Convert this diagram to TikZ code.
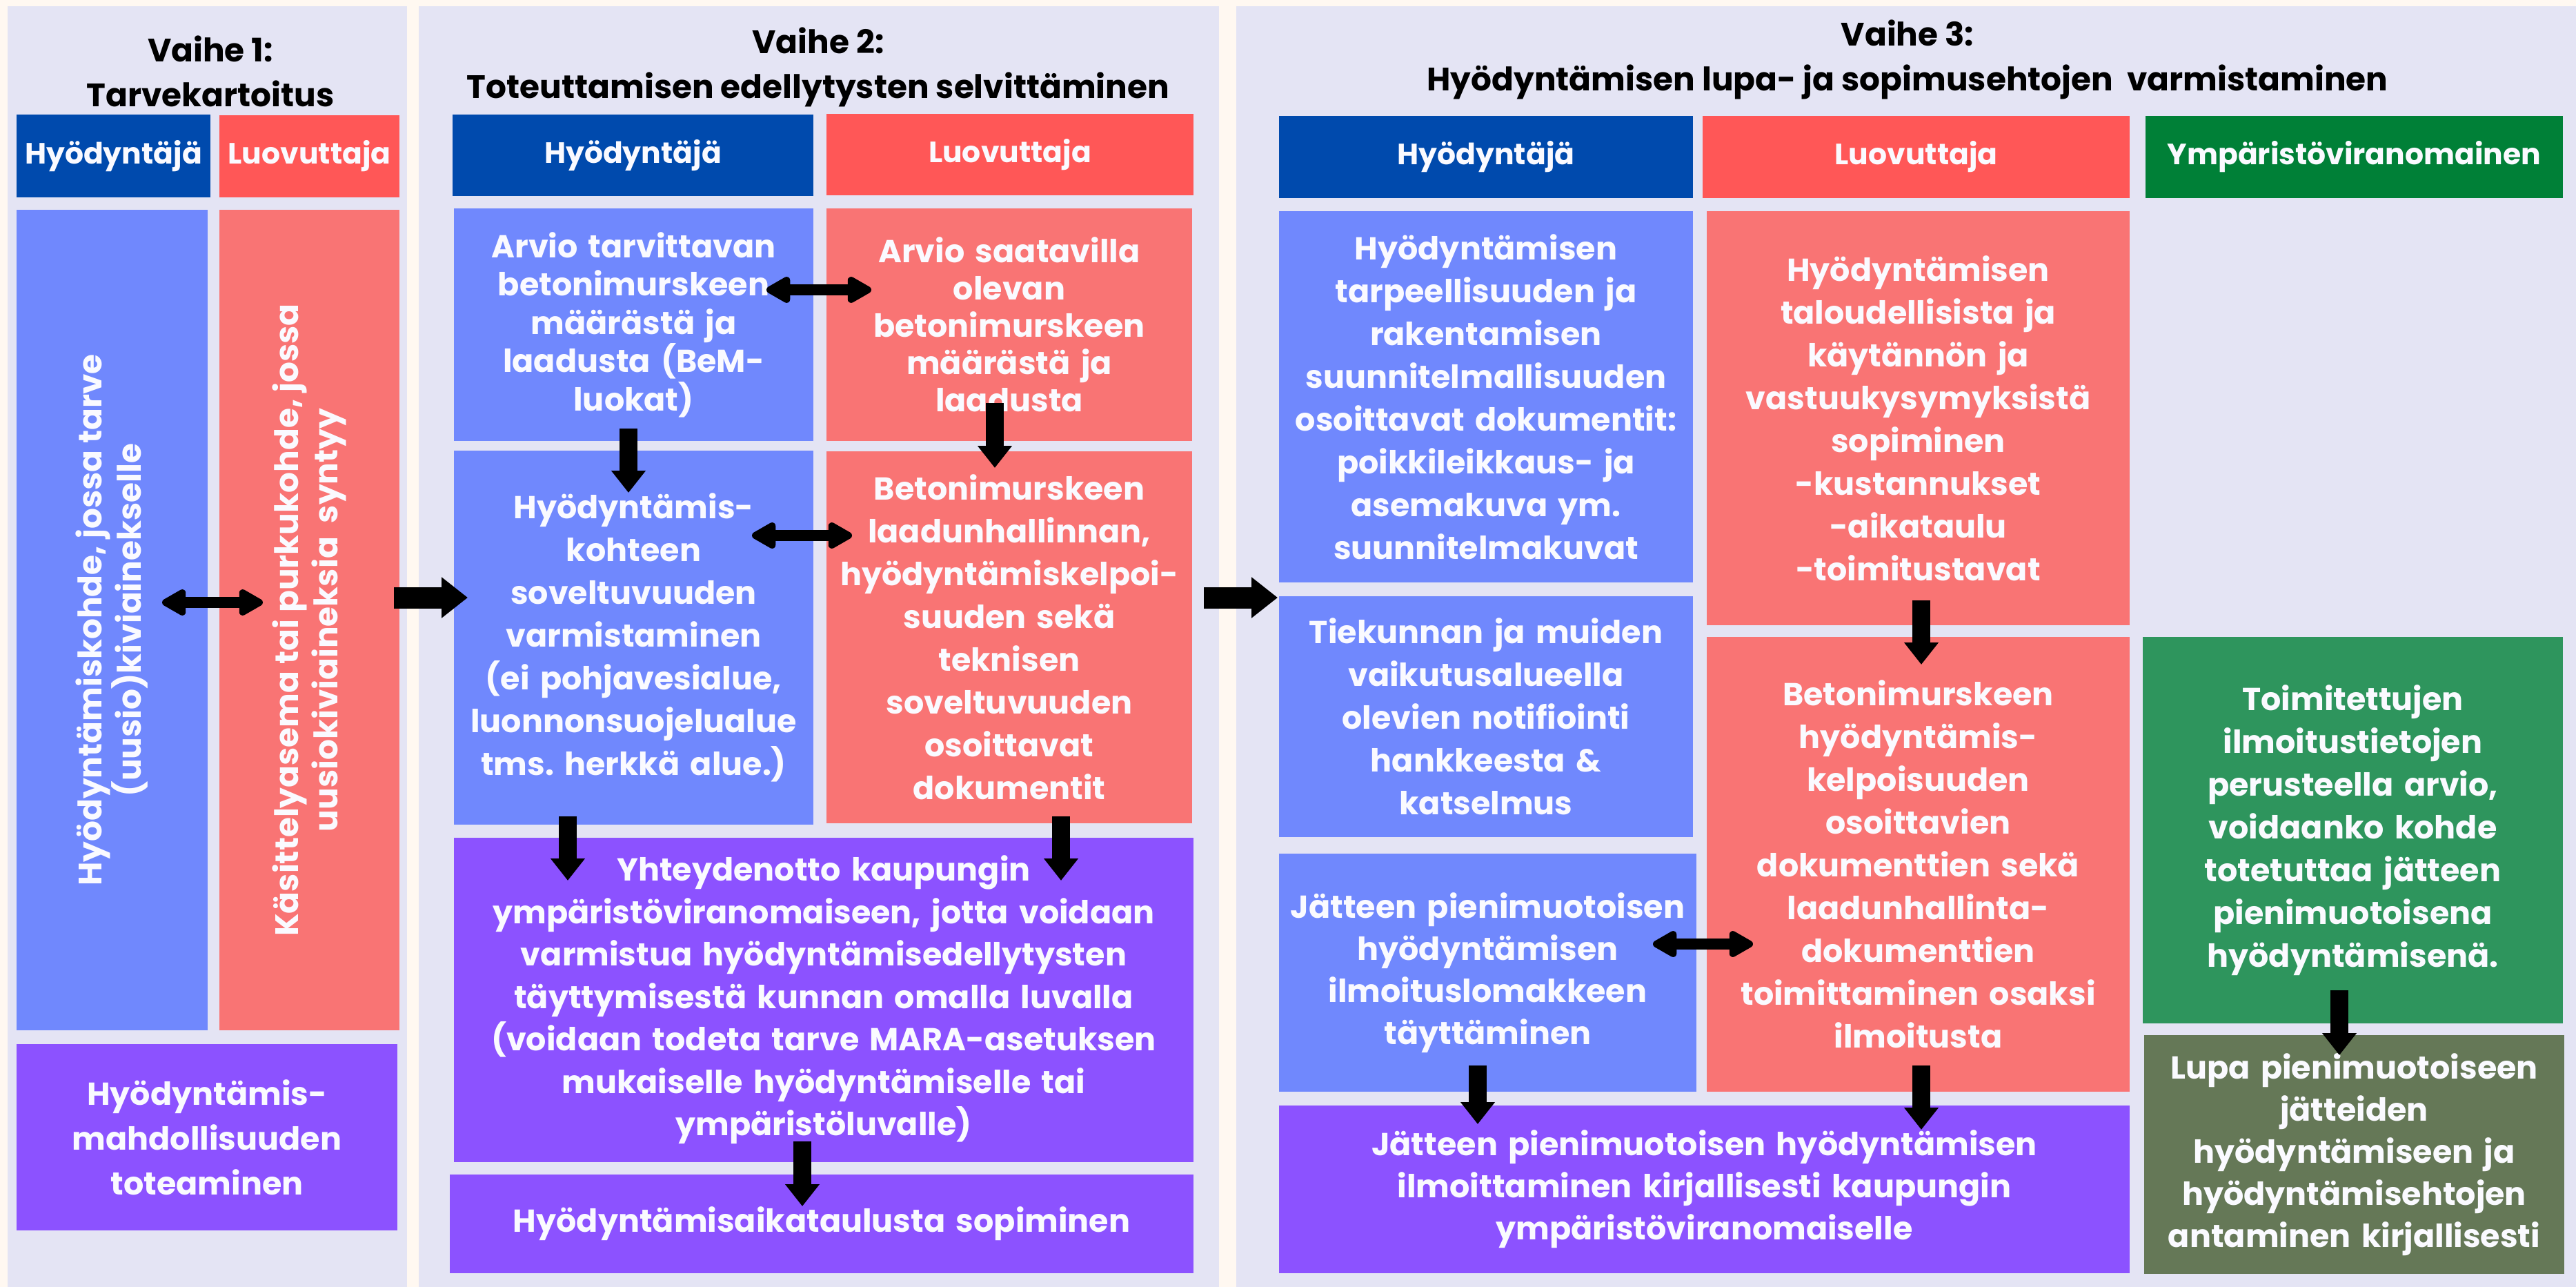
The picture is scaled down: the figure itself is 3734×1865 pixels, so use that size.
\documentclass[tikz,border=0pt]{standalone}
\usepackage{fontspec}
\setmainfont{Poppins}
\usetikzlibrary{arrows.meta}
\frenchspacing
\definecolor{cream}{HTML}{FFF8F1}
\definecolor{panel}{HTML}{E4E4F4}
\definecolor{hdblue}{HTML}{004AAD}
\definecolor{hdred}{HTML}{FF5757}
\definecolor{hdgreen}{HTML}{008037}
\definecolor{bblue}{HTML}{7088FD}
\definecolor{bred}{HTML}{F97474}
\definecolor{bpurple}{HTML}{8C52FF}
\definecolor{bgreen}{HTML}{2E955D}
\definecolor{bolive}{HTML}{657857}
\definecolor{txtwhite}{HTML}{FAFAFF}
\newcommand\bx[8]{% name, x1,y1,x2,y2, style, leading(pt), text
  \pgfmathsetmacro\myBW{(#4-#2)*0.2}%
  \pgfmathsetmacro\myBH{(#5-#3)*0.2}%
  \pgfmathsetmacro\myTW{(#4-#2)*0.2-4}%
  \node[box, font=\fontsize{9.2}{#7}\selectfont\bfseries, #6, minimum width=\myBW pt, minimum height=\myBH pt, text width=\myTW pt] (#1) at ({(#2+#4)/2},{(#3+#5)/2}) {#8};}
\tikzset{
  box/.style={inner sep=0pt, outer sep=0pt, align=center, text=txtwhite},
  hdr/.style={font=\fontsize{8.5}{11}\selectfont\bfseries},
  ttl/.style={align=center, text=black, inner sep=0pt, font=\fontsize{9.4}{13}\selectfont\bfseries},
  rot/.style={rotate=90, align=center, text=txtwhite, inner sep=0pt, font=\fontsize{9.4}{11.4}\selectfont\bfseries},
  dn/.style={line width=5.2pt, -{Triangle[length=6.4pt,width=9.6pt]}},
  big/.style={line width=6.2pt, -{Triangle[length=7.6pt,width=11.4pt]}},
  dbl/.style={line width=3.2pt, {Triangle[round,length=8pt,width=8.4pt]}-{Triangle[round,length=8pt,width=8.4pt]}}
}
\begin{document}
\begin{tikzpicture}[x=0.2pt,y=-0.2pt]
\useasboundingbox (0,0) rectangle (3734,1865);
\fill[cream] (0,0) rectangle (3734,1865);
\fill[panel] (11,9) rectangle (590,1865);
\fill[panel] (607,9) rectangle (1767,1865);
\fill[panel] (1792,9) rectangle (3734,1865);
% titles
\node[ttl] (t1) at (305,103) {Vaihe 1:\\Tarvekartoitus};
\node[ttl] (t2) at (1186,97) {Vaihe 2:\\Toteuttamisen edellytysten selvittäminen};
\node[ttl] (t3) at (2765,86) {Vaihe 3:\\Hyödyntämisen lupa- ja sopimusehtojen\ \ varmistaminen};
% Phase 1
\bx{h1a}{24}{166}{305}{286}{fill=hdblue,hdr}{11}{Hyödyntäjä}
\bx{h1b}{318}{167}{579}{286}{fill=hdred,hdr}{11}{Luovuttaja}
\bx{b1a}{24}{304}{301}{1493}{fill=bblue}{11}{}
\bx{b1b}{318}{304}{579}{1493}{fill=bred}{11}{}
\node[rot] (b1atext) at (b1a.center) {Hyödyntämiskohde, jossa tarve\\(uusio)kiviainekselle};
\node[rot] (b1btext) at (b1b.center) {Käsittelyasema tai purkukohde, jossa\\uusiokiviaineksia\ \ syntyy};
\bx{b1c}{24}{1513}{576}{1783}{fill=bpurple}{13}{Hyödyntämis-\\mahdollisuuden\\toteaminen}
% Phase 2
\bx{h2a}{656}{166}{1179}{284}{fill=hdblue,hdr}{11}{Hyödyntäjä}
\bx{h2b}{1198}{165}{1730}{283}{fill=hdred,hdr}{11}{Luovuttaja}
\bx{b2a}{658}{302}{1179}{639}{fill=bblue}{11.1}{Arvio tarvittavan\\betonimurskeen\\määrästä ja\\laadusta (BeM-\\luokat)}
\bx{b2b}{1198}{302}{1728}{639}{fill=bred}{10.8}{Arvio saatavilla\\olevan\\betonimurskeen\\määrästä ja\\laadusta}
\bx{b2c}{658}{653}{1179}{1195}{fill=bblue}{12.4}{Hyödyntämis-\\kohteen\\soveltuvuuden\\varmistaminen\\(ei pohjavesialue,\\luonnonsuojelualue\\tms. herkkä alue.)}
\bx{b2d}{1198}{654}{1728}{1193}{fill=bred}{12.4}{Betonimurskeen\\laadunhallinnan,\\hyödyntämiskelpoi-\\suuden sekä\\teknisen\\soveltuvuuden\\osoittavat\\dokumentit}
\bx{b2e}{658}{1214}{1730}{1684}{fill=bpurple}{12.3}{Yhteydenotto kaupungin\\ympäristöviranomaiseen, jotta voidaan\\varmistua hyödyntämisedellytysten\\täyttymisestä kunnan omalla luvalla\\(voidaan todeta tarve MARA-asetuksen\\mukaiselle hyödyntämiselle tai\\ympäristöluvalle)}
\bx{b2f}{652}{1702}{1730}{1845}{fill=bpurple}{12.3}{Hyödyntämisaikataulusta sopiminen}
% Phase 3
\bx{h3a}{1854}{168}{2454}{287}{fill=hdblue,hdr}{11}{Hyödyntäjä}
\bx{h3b}{2468}{168}{3087}{287}{fill=hdred,hdr}{11}{\raisebox{-0.8pt}{Luovuttaja}}
\bx{h3c}{3110}{168}{3715}{287}{fill=hdgreen,hdr}{11}{Ympäristöviranomainen}
\bx{b3a}{1854}{306}{2454}{844}{fill=bblue}{12.4}{Hyödyntämisen\\tarpeellisuuden ja\\rakentamisen\\suunnitelmallisuuden\\osoittavat dokumentit:\\poikkileikkaus- ja\\asemakuva ym.\\suunnitelmakuvat}
\bx{b3b}{1854}{864}{2454}{1213}{fill=bblue}{12.4}{Tiekunnan ja muiden\\vaikutusalueella\\olevien notifiointi\\hankkeesta \&\\katselmus}
\bx{b3c}{1854}{1237}{2459}{1582}{fill=bblue}{12.2}{Jätteen pienimuotoisen\\hyödyntämisen\\ilmoituslomakkeen\\täyttäminen\\[13pt]}
\bx{b3d}{1854}{1602}{3087}{1845}{fill=bpurple}{12.2}{Jätteen pienimuotoisen hyödyntämisen\\ilmoittaminen kirjallisesti kaupungin\\ympäristöviranomaiselle}
\bx{b3e}{2474}{306}{3087}{906}{fill=bred}{12.4}{Hyödyntämisen\\taloudellisista ja\\käytännön ja\\vastuukysymyksistä\\sopiminen\\-kustannukset\\-aikataulu\\-toimitustavat\\[13pt]}
\bx{b3f}{2474}{923}{3087}{1582}{fill=bred}{12.4}{Betonimurskeen\\hyödyntämis-\\kelpoisuuden\\osoittavien\\dokumenttien sekä\\laadunhallinta-\\dokumenttien\\toimittaminen osaksi\\ilmoitusta}
\bx{b3g}{3106}{923}{3715}{1483}{fill=bgreen}{12.4}{Toimitettujen\\ilmoitustietojen\\perusteella arvio,\\voidaanko kohde\\totetuttaa jätteen\\pienimuotoisena\\hyödyntämisenä.}
\bx{b3h}{3108}{1500}{3717}{1846}{fill=bolive}{12.2}{Lupa pienimuotoiseen\\jätteiden\\hyödyntämiseen ja\\hyödyntämisehtojen\\antaminen kirjallisesti}
% arrow end points
\coordinate (p1l) at (235,873); \coordinate (p1r) at (381,873);
\coordinate (g12a) at (571,866); \coordinate (g12b) at (678,866);
\coordinate (g23a) at (1745,866); \coordinate (g23b) at (1852,866);
\coordinate (d1a) at (911,621); \coordinate (d1b) at (911,714);
\coordinate (d2a) at (1442,584); \coordinate (d2b) at (1442,678);
\coordinate (e1a) at (1111,420); \coordinate (e1b) at (1263,420);
\coordinate (e2a) at (1090,776); \coordinate (e2b) at (1235,776);
\coordinate (d3a) at (823,1183); \coordinate (d3b) at (823,1276);
\coordinate (d4a) at (1538,1183); \coordinate (d4b) at (1538,1276);
\coordinate (d5a) at (1163,1654); \coordinate (d5b) at (1163,1748);
\coordinate (e3a) at (2396,1368); \coordinate (e3b) at (2541,1368);
\coordinate (d6a) at (2142,1544); \coordinate (d6b) at (2142,1629);
\coordinate (d7a) at (2785,870); \coordinate (d7b) at (2785,963);
\coordinate (d8a) at (2785,1544); \coordinate (d8b) at (2785,1637);
\coordinate (d9a) at (3391,1435); \coordinate (d9b) at (3391,1529);
% arrows
\draw[dbl] (p1l) -- (p1r);
\draw[big] (g12a) -- (g12b);
\draw[big] (g23a) -- (g23b);
\draw[dn] (d1a) -- (d1b);
\draw[dn] (d2a) -- (d2b);
\draw[dbl] (e1a) -- (e1b);
\draw[dbl] (e2a) -- (e2b);
\draw[dn] (d3a) -- (d3b);
\draw[dn] (d4a) -- (d4b);
\draw[dn] (d5a) -- (d5b);
\draw[dbl] (e3a) -- (e3b);
\draw[dn] (d6a) -- (d6b);
\draw[dn] (d7a) -- (d7b);
\draw[dn] (d8a) -- (d8b);
\draw[dn] (d9a) -- (d9b);
\end{tikzpicture}
\end{document}
